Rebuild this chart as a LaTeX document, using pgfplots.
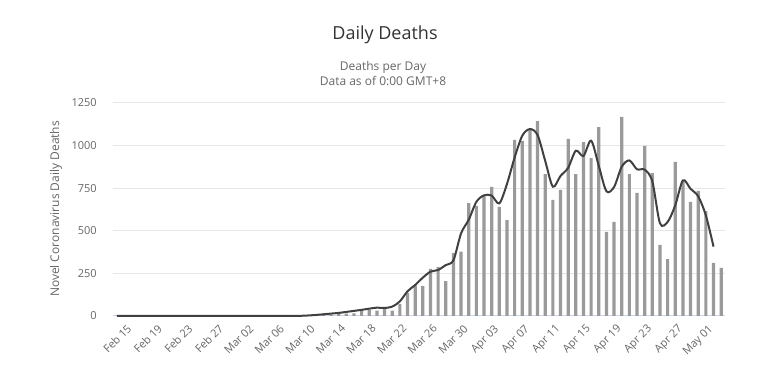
\documentclass[border=0pt]{standalone}
\usepackage{pgfplots}
\pgfplotsset{compat=1.18}
\usepackage{fontspec}
\setmainfont{Open Sans}
\definecolor{barc}{HTML}{9A9A9A}
\definecolor{linec}{HTML}{404040}
\definecolor{gridc}{HTML}{E6E6E6}
\definecolor{axisc}{HTML}{CCD6EB}
\definecolor{labc}{HTML}{666666}
\definecolor{titc}{HTML}{333333}
\pgfplotstableread{
x y
0 0
1 0
2 0
3 0
4 0
5 0
6 0
7 0
8 0
9 0
10 0
11 0
12 0
13 0
14 0
15 0
16 0
17 0
18 0
19 0
20 0
21 0
22 1
23 2
24 2
25 3
26 4
27 5
28 8
29 12
30 14
31 16
32 31
33 36
34 31
35 43
36 31
37 71
38 135
39 180
40 176
41 276
42 288
43 205
44 369
45 377
46 662
47 646
48 707
49 757
50 640
51 563
52 1033
53 1028
54 1094
55 1144
56 832
57 681
58 740
59 1039
60 832
61 1021
62 927
63 1109
64 493
65 552
66 1168
67 833
68 722
69 998
70 839
71 417
72 334
73 904
74 795
75 669
76 734
77 616
78 311
79 282
}\bars
\pgfplotstableread{
x y
0 0
2 0
4 0
6 0
8 0
10 0
12 0
14 0
16 0
18 0
20 0
22 0
23 0
24 1
25 3
26 6
27 10
28 14
29 18
30 24
31 30
32 36
33 43
34 49
35 47
36 55
37 86
38 145
39 182
40 225
41 260
42 270
43 299
44 327
45 485
46 565
47 670
48 708
49 707
50 661
51 775
52 930
53 1058
54 1097
55 1062
56 910
57 759
58 822
59 870
60 970
61 939
62 1029
63 881
64 732
65 757
66 876
67 913
68 861
69 859
70 790
71 544
72 552
73 650
74 796
75 746
76 702
77 590
78 407
}\trend
\begin{document}
\begin{tikzpicture}
\path[use as bounding box] (0,0) rectangle (570.75pt,279.75pt);
\begin{axis}[
  at={(84.75pt,42.75pt)}, anchor=south west,
  scale only axis, width=459pt, height=159.75pt,
  xmin=-0.5, xmax=79.5, ymin=0, ymax=1250,
  separate axis lines,
  axis x line*=bottom, axis y line*=left,
  y axis line style={draw=none},
  x axis line style={draw=axisc, line width=0.75pt},
  major tick length=0pt,
  ytick={0,250,...,1250},
  ymajorgrids, grid style={draw=gridc, line width=0.75pt},
  xtick={0,4,...,76},
  xticklabels={Feb 15,Feb 19,Feb 23,Feb 27,Mar 02,Mar 06,Mar 10,Mar 14,Mar 18,Mar 22,Mar 26,Mar 30,Apr 03,Apr 07,Apr 11,Apr 15,Apr 19,Apr 23,Apr 27,May 01},
  /pgf/number format/assume math mode=true,
  yticklabel={\pgfmathprintnumber[1000 sep={}]{\tick}},
  ticklabel style={font=\fontsize{8.25}{10}\selectfont, text=labc},
  xticklabel style={rotate=45, anchor=north east, inner sep=0pt, yshift=-9pt, xshift=1pt},
  yticklabel style={anchor=east, inner sep=0pt, xshift=-12pt},
  clip=false,
]
\addplot[ybar, bar width=2.4pt, bar shift=0pt, fill=barc, draw=none] table[x=x,y=y] {\bars};
\addplot[smooth, draw=linec, line width=1.5pt, no markers] table[x=x,y=y] {\trend};
\end{axis}
\node[text=titc, font=\fontsize{13.5}{16}\selectfont] at (288.75pt,253.5pt) {Daily Deaths};
\node[text=labc, font=\fontsize{9}{11}\selectfont] at (287.25pt,229.5pt) {Deaths per Day};
\node[text=labc, font=\fontsize{9}{11}\selectfont] at (287.25pt,219pt) {Data as of 0:00 GMT+8};
\node[text=labc, font=\fontsize{9}{11}\selectfont, rotate=90] at (42pt,123pt) {Novel Coronavirus Daily Deaths};
\end{tikzpicture}
\end{document}
